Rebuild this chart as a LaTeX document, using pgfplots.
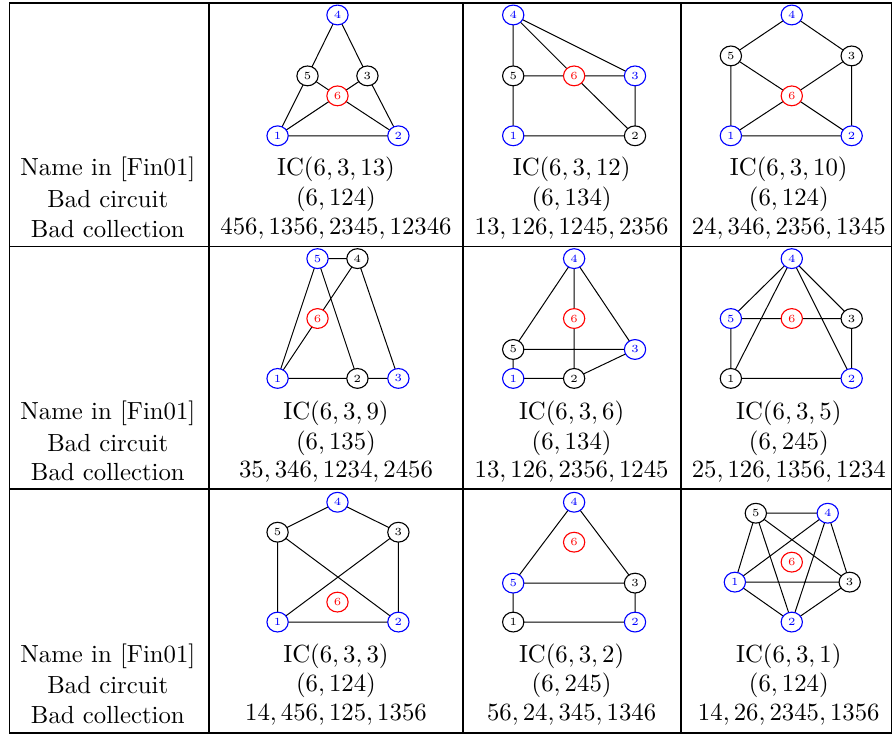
\documentclass[border=0pt]{standalone}
\usepackage{pgfplots}
\pgfplotsset{compat=1.18}
\usetikzlibrary{shapes.geometric}

\tikzset{vtx/.style={ellipse, fill=white, line width=0.45pt, minimum width=8.6pt,
  minimum height=8.0pt, inner sep=0pt, anchor=center, font=\fontsize{4.4}{4.4}\selectfont}}

% edges of one graph, paths split by (nan,nan)
\newcommand{\edges}[1]{\addplot[black, line width=0.4pt, unbounded coords=jump, mark=none, forget plot] coordinates {#1};}
% vertices of one colour, label given as point meta
\newcommand{\verts}[2]{\addplot[only marks, mark=*, mark options={draw=none, fill=none},
  point meta=explicit symbolic, nodes near coords,
  nodes near coords style={vtx, draw=#1, text=#1}, forget plot] coordinates {#2};}
% three text lines of one cell
\newcommand{\cell}[6]{%
  \node at (axis cs:#1,#2) {$\mathrm{IC}(#4)$};
  \node at (axis cs:#1,#2+29.5) {$#5$};
  \node at (axis cs:#1,#2+59) {$#6$};}
\newcommand{\rowhead}[1]{%
  \node at (axis cs:108,#1) {Name in [Fin01]};
  \node at (axis cs:108,#1+29.5) {Bad circuit};
  \node at (axis cs:108,#1+59) {Bad collection};}

\begin{document}
\begin{tikzpicture}
\begin{axis}[
  width=360.5pt, height=296.8pt, scale only axis,
  xmin=0, xmax=894, ymin=0, ymax=736, y dir=reverse,
  hide axis, clip=false,
]
\addplot[draw=none, forget plot] coordinates {(0,0) (894,736)};

% table rules
\addplot[black, line width=0.7pt, unbounded coords=jump, mark=none, forget plot] coordinates {
  (9.5,3) (893,3) (nan,nan) (9.5,247) (893,247) (nan,nan)
  (9.5,490) (893,490) (nan,nan) (9.5,734) (893,734) (nan,nan)
  (9.5,3) (9.5,734) (nan,nan) (209.5,3) (209.5,734) (nan,nan)
  (463.5,3) (463.5,734) (nan,nan) (682,3) (682,734) (nan,nan)
  (893,3) (893,734)};

% IC(6,3,13)
\edges{(338,15) (308,76) (278,136) (399,136) (368,76) (338,15) (nan,nan)
  (308,76) (338,96) (368,76) (nan,nan) (278,136) (338,96) (399,136)}
\verts{blue}{(338,15) [4] (278,136) [1] (399,136) [2]}
\verts{black}{(308,76) [5] (368,76) [3]}
\verts{red}{(338,96) [6]}

% IC(6,3,12)
\edges{(514,15) (514,76) (514,136) (636,136) (636,76) (514,15) (nan,nan)
  (514,15) (575,76) (636,136) (nan,nan) (514,76) (636,76)}
\verts{blue}{(514,15) [4] (636,76) [3] (514,136) [1]}
\verts{black}{(514,76) [5] (636,136) [2]}
\verts{red}{(575,76) [6]}

% IC(6,3,10)
\edges{(793,15) (732,56) (732,136) (853,136) (853,56) (793,15) (nan,nan)
  (732,56) (793,96) (853,136) (nan,nan) (853,56) (793,96) (732,136)}
\verts{blue}{(793,15) [4] (732,136) [1] (853,136) [2]}
\verts{black}{(732,56) [5] (853,56) [3]}
\verts{red}{(793,96) [6]}

% IC(6,3,9)
\edges{(278,379) (318,259) (358,259) (399,379) (358,379) (278,379) (nan,nan)
  (318,259) (358,379) (nan,nan) (358,259) (318,319) (278,379)}
\verts{blue}{(318,259) [5] (278,379) [1] (399,379) [3]}
\verts{black}{(358,259) [4] (358,379) [2]}
\verts{red}{(318,319) [6]}

% IC(6,3,6)
\edges{(575,259) (514,350) (514,379) (575,379) (636,350) (575,259) (nan,nan)
  (575,259) (575,379) (nan,nan) (514,350) (636,350)}
\verts{blue}{(575,259) [4] (636,350) [3] (514,379) [1]}
\verts{black}{(514,350) [5] (575,379) [2]}
\verts{red}{(575,319) [6]}

% IC(6,3,5)
\edges{(793,259) (732,319) (732,379) (853,379) (853,319) (793,259) (nan,nan)
  (732,379) (793,259) (853,379) (nan,nan) (732,319) (853,319)}
\verts{blue}{(793,259) [4] (732,319) [5] (853,379) [2]}
\verts{black}{(853,319) [3] (732,379) [1]}
\verts{red}{(793,319) [6]}

% IC(6,3,3)
\edges{(338,503) (278,533) (278,623) (399,623) (399,533) (338,503) (nan,nan)
  (278,533) (399,623) (nan,nan) (399,533) (278,623)}
\verts{blue}{(338,503) [4] (278,623) [1] (399,623) [2]}
\verts{black}{(278,533) [5] (399,533) [3]}
\verts{red}{(338,603) [6]}

% IC(6,3,2)
\edges{(575,503) (514,584) (514,623) (636,623) (636,584) (575,503) (nan,nan)
  (514,584) (636,584)}
\verts{blue}{(575,503) [4] (514,584) [5] (636,623) [2]}
\verts{black}{(636,584) [3] (514,623) [1]}
\verts{red}{(575,543) [6]}

% IC(6,3,1)
\edges{(757,514) (829,514) (851,583) (793,623) (736,583) (757,514) (nan,nan)
  (757,514) (851,583) (736,583) (829,514) (793,623) (757,514)}
\verts{blue}{(829,514) [4] (736,583) [1] (793,623) [2]}
\verts{black}{(757,514) [5] (851,583) [3]}
\verts{red}{(793,563) [6]}

% text
\rowhead{170}
\rowhead{414}
\rowhead{657}
\cell{336.5}{170}{}{6,3,13}{(6,124)}{456, 1356, 2345, 12346}
\cell{572.5}{170}{}{6,3,12}{(6,134)}{13, 126, 1245, 2356}
\cell{790}{170}{}{6,3,10}{(6,124)}{24, 346, 2356, 1345}
\cell{336.5}{414}{}{6,3,9}{(6,135)}{35, 346, 1234, 2456}
\cell{572.5}{414}{}{6,3,6}{(6,134)}{13, 126, 2356, 1245}
\cell{790}{414}{}{6,3,5}{(6,245)}{25, 126, 1356, 1234}
\cell{336.5}{657}{}{6,3,3}{(6,124)}{14, 456, 125, 1356}
\cell{572.5}{657}{}{6,3,2}{(6,245)}{56, 24, 345, 1346}
\cell{790}{657}{}{6,3,1}{(6,124)}{14, 26, 2345, 1356}
\end{axis}
\end{tikzpicture}
\end{document}
